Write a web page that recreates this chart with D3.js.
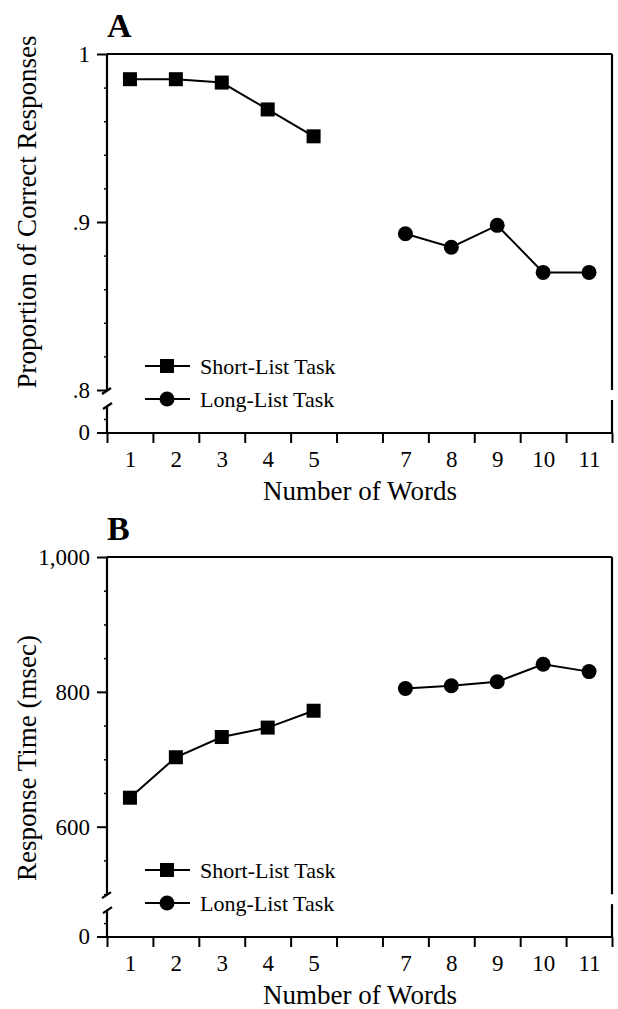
<!DOCTYPE html>
<html>
<head>
<meta charset="utf-8">
<script src="https://cdn.jsdelivr.net/npm/d3@7"></script>
<style>
  body { margin: 0; background: #fff; }
  svg text { font-family: "Liberation Serif", "Times New Roman", serif; fill: #000; }
</style>
</head>
<body>
<div id="chart"></div>
<script>
// Data
var shortWords = [1, 2, 3, 4, 5];
var longWords = [7, 8, 9, 10, 11];
var xTickLabels = [1, 2, 3, 4, 5, 7, 8, 9, 10, 11];

var accuracyShort = [0.985, 0.985, 0.983, 0.967, 0.951];
var accuracyLong = [0.893, 0.885, 0.898, 0.870, 0.870];
var accuracyMajor = [0.8, 0.9, 1];
var accuracyMinor = [0.82, 0.84, 0.86, 0.88, 0.92, 0.94, 0.96, 0.98];

var rtShort = [643, 703, 733, 747, 772];
var rtLong = [805, 809, 815, 841, 830];
var rtMajor = [600, 800, 1000];
var rtMinor = [500, 550, 650, 700, 750, 850, 900, 950];

var legendLabels = ['Short-List Task', 'Long-List Task'];

var svgWidth = 618;
var svgHeight = 1009;

var svg = d3.select('#chart')
    .append('svg')
    .attr('width', svgWidth)
    .attr('height', svgHeight);

var plotLeft = 107;
var plotRight = 612;

// shared x scale: 11 slots, slot 6 left empty
var xScale = d3.scaleLinear()
    .domain([0.5, 11.5])
    .range([plotLeft, plotRight]);

function drawPanel(p) {
    var g = svg.append('g');

    var yScale = d3.scaleLinear()
        .domain(p.domain)
        .range([p.domainBottom, p.top]);

    var breakY = yScale(p.breakValue);

    // frame pieces (with break on both sides)
    var frame = g.append('g')
        .attr('fill', 'none')
        .attr('stroke', '#000')
        .attr('stroke-width', 2.2);

    frame.append('line')
        .attr('x1', plotLeft).attr('x2', plotRight)
        .attr('y1', p.top).attr('y2', p.top);
    frame.append('line')
        .attr('x1', plotLeft).attr('x2', plotRight)
        .attr('y1', p.bottom).attr('y2', p.bottom);
    frame.append('line')
        .attr('x1', plotLeft).attr('x2', plotLeft)
        .attr('y1', p.top).attr('y2', breakY + 1);
    frame.append('line')
        .attr('x1', plotLeft).attr('x2', plotLeft)
        .attr('y1', breakY + 16).attr('y2', p.bottom);
    frame.append('line')
        .attr('x1', plotRight).attr('x2', plotRight)
        .attr('y1', p.top).attr('y2', breakY);
    frame.append('line')
        .attr('x1', plotRight).attr('x2', plotRight)
        .attr('y1', breakY + 10).attr('y2', p.bottom);

    // break slashes on the y axis
    frame.append('line')
        .attr('x1', plotLeft - 5).attr('y1', breakY + 4)
        .attr('x2', plotLeft + 4).attr('y2', breakY - 2);
    frame.append('line')
        .attr('x1', plotLeft - 4).attr('y1', breakY + 19)
        .attr('x2', plotLeft + 5).attr('y2', breakY + 13);

    // minor y ticks
    g.append('g')
        .attr('transform', `translate(${plotLeft}, 0)`)
        .call(d3.axisLeft(yScale).tickValues(p.minor).tickSize(3).tickFormat(''))
        .call(a => a.select('.domain').remove())
        .call(a => a.selectAll('line').attr('stroke-width', 1.5));

    // major y ticks
    g.append('g')
        .attr('transform', `translate(${plotLeft}, 0)`)
        .call(d3.axisLeft(yScale).tickValues(p.major).tickSize(10).tickPadding(7).tickFormat(p.format))
        .call(a => a.select('.domain').remove())
        .call(a => a.selectAll('line').attr('stroke-width', 2))
        .call(a => a.selectAll('text').attr('font-size', 23).attr('font-family', '"Liberation Serif", serif'));

    // zero tick below the break
    var zeroG = g.append('g')
        .attr('transform', `translate(${plotLeft}, ${p.bottom})`);
    zeroG.append('line')
        .attr('x1', -10).attr('x2', 0)
        .attr('stroke', '#000').attr('stroke-width', 2);
    zeroG.append('line')
        .attr('x1', -3).attr('x2', 0)
        .attr('y1', -(p.bottom - breakY - 16) / 2).attr('y2', -(p.bottom - breakY - 16) / 2)
        .attr('stroke', '#000').attr('stroke-width', 1.5);
    zeroG.append('text')
        .attr('x', -17).attr('dy', '0.32em')
        .attr('text-anchor', 'end')
        .attr('font-size', 23)
        .text('0');

    // x ticks between slots
    g.append('g')
        .attr('transform', `translate(0, ${p.bottom})`)
        .call(d3.axisBottom(xScale).tickValues(d3.range(0.5, 12, 1)).tickSize(10).tickFormat(''))
        .call(a => a.select('.domain').remove())
        .call(a => a.selectAll('line').attr('stroke-width', 2));

    // x labels centered in slots
    g.append('g')
        .attr('transform', `translate(0, ${p.bottom})`)
        .call(d3.axisBottom(xScale).tickValues(xTickLabels).tickSize(0).tickPadding(18).tickFormat(d3.format('d')))
        .call(a => a.select('.domain').remove())
        .call(a => a.selectAll('text').attr('font-size', 23).attr('font-family', '"Liberation Serif", serif'));

    // axis titles
    g.append('text')
        .attr('x', 360)
        .attr('y', p.bottom + 67)
        .attr('text-anchor', 'middle')
        .attr('font-size', 27)
        .text('Number of Words');

    g.append('text')
        .attr('transform', `translate(36, ${p.ylabelY}) rotate(-90)`)
        .attr('text-anchor', 'middle')
        .attr('font-size', 27)
        .text(p.ylabel);

    // panel letter
    g.append('text')
        .attr('x', 107)
        .attr('y', p.top - 17)
        .attr('font-size', 34)
        .attr('font-weight', 'bold')
        .text(p.letter);

    // lines
    var line = d3.line()
        .x(d => xScale(d[0]))
        .y(d => yScale(d[1]));

    var shortData = shortWords.map((w, i) => [w, p.shortValues[i]]);
    var longData = longWords.map((w, i) => [w, p.longValues[i]]);

    g.append('path')
        .datum(shortData)
        .attr('d', line)
        .attr('fill', 'none')
        .attr('stroke', '#000')
        .attr('stroke-width', 2);

    g.append('path')
        .datum(longData)
        .attr('d', line)
        .attr('fill', 'none')
        .attr('stroke', '#000')
        .attr('stroke-width', 2);

    g.selectAll('.sq')
        .data(shortData)
        .enter()
        .append('rect')
        .attr('x', d => xScale(d[0]) - 7)
        .attr('y', d => yScale(d[1]) - 7)
        .attr('width', 14)
        .attr('height', 14)
        .attr('fill', '#000');

    g.selectAll('.dot')
        .data(longData)
        .enter()
        .append('circle')
        .attr('cx', d => xScale(d[0]))
        .attr('cy', d => yScale(d[1]))
        .attr('r', 7.5)
        .attr('fill', '#000');

    // legend
    legendLabels.forEach((label, i) => {
        var ly = p.legendY + i * 33;
        var lg = g.append('g').attr('transform', `translate(145, ${ly})`);
        lg.append('line')
            .attr('x1', 0).attr('x2', 45)
            .attr('stroke', '#000').attr('stroke-width', 2);
        if (i === 0) {
            lg.append('rect')
                .attr('x', 15).attr('y', -7)
                .attr('width', 14).attr('height', 14)
                .attr('fill', '#000');
        } else {
            lg.append('circle')
                .attr('cx', 22).attr('r', 7.5)
                .attr('fill', '#000');
        }
        lg.append('text')
            .attr('x', 55)
            .attr('dy', '0.35em')
            .attr('font-size', 22)
            .text(label);
    });
}

// Panel A: accuracy
drawPanel({
    letter: 'A',
    top: 54,
    domainBottom: 390,
    bottom: 433,
    domain: [0.8, 1],
    breakValue: 0.8,
    major: accuracyMajor,
    minor: accuracyMinor,
    format: d => d === 1 ? '1' : d3.format('.1f')(d).replace(/^0/, ''),
    shortValues: accuracyShort,
    longValues: accuracyLong,
    ylabel: 'Proportion of Correct Responses',
    ylabelY: 212,
    legendY: 366
});

// Panel B: response time
drawPanel({
    letter: 'B',
    top: 557,
    domainBottom: 826.7,
    bottom: 937,
    domain: [600, 1000],
    breakValue: 500,
    major: rtMajor,
    minor: rtMinor,
    format: d3.format(','),
    shortValues: rtShort,
    longValues: rtLong,
    ylabel: 'Response Time (msec)',
    ylabelY: 758,
    legendY: 870
});
</script>
</body>
</html>
